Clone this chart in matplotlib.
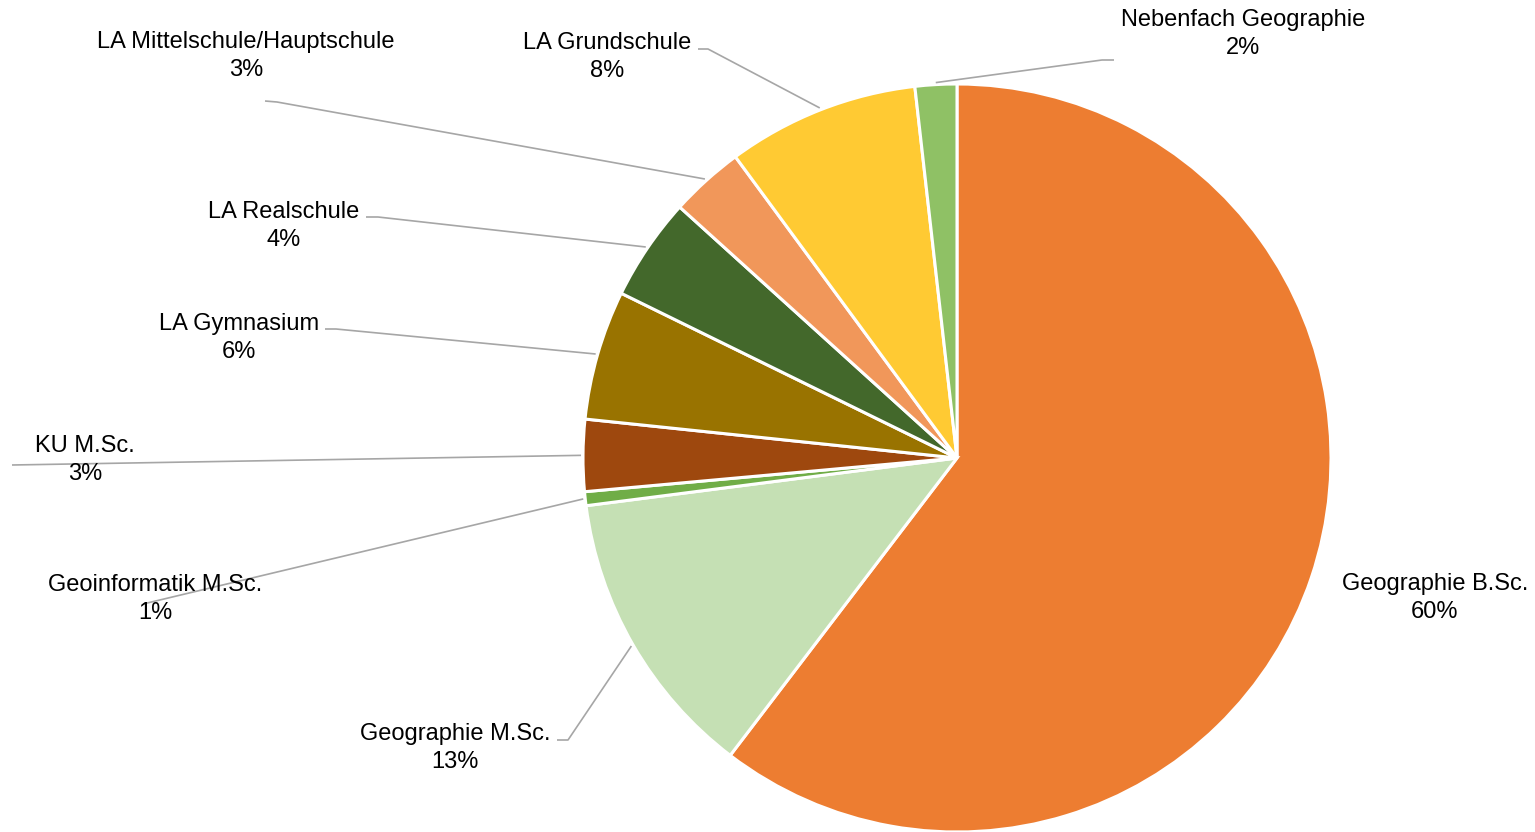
import numpy as np
import matplotlib
matplotlib.use("Agg")
import matplotlib.pyplot as plt

# ---- data ----
categories = ["Geographie B.Sc.", "Geographie M.Sc.", "Geoinformatik M.Sc.", "KU M.Sc.",
              "LA Gymnasium", "LA Realschule", "LA Mittelschule/Hauptschule",
              "LA Grundschule", "Nebenfach Geographie"]
shares = [60.4, 12.6, 0.6, 3.1, 5.6, 4.45, 3.2, 8.3, 1.8]
colors = ["#ED7D31", "#C5E0B4", "#70AD47", "#9E480E", "#997300",
          "#43682B", "#F1975A", "#FFCA33", "#8FC165"]

# ---- layout (pixel coordinates, y from top) ----
W, H = 1535, 832
cx, cy, R = 957, 458, 374
# label text centre positions
label_pos = [(1435, 598), (455, 748), (155, 599), (85, 460), (239, 338),
             (284, 226), (246, 56), (607, 57), (1243, 34)]
# leader line: list of extra points from slice outward (None = no leader)
leaders = [None,
           [(568, 740), (557, 740)],
           [(143, 604)],
           [(12, 465)],
           [(336, 329), (325, 329)],
           [(378, 217), (366, 217)],
           [(277, 102), (265, 101)],
           [(708, 49), (698, 49)],
           [(1102, 60), (1114, 60)]]

fig = plt.figure(figsize=(W / 100, H / 100), dpi=100)
ax = fig.add_axes([0, 0, 1, 1])
ax.set_xlim(0, W)
ax.set_ylim(0, H)
ax.set_aspect("equal")
ax.axis("off")

ax.pie(shares, colors=colors, startangle=90, counterclock=False,
       center=(cx, H - cy), radius=R,
       wedgeprops=dict(edgecolor="white", linewidth=2.2), frame=False)
ax.set_xlim(0, W)
ax.set_ylim(0, H)

total = sum(shares)
cum = np.cumsum([0] + shares)
for i, (cat, val) in enumerate(zip(categories, shares)):
    mid = (cum[i] + val / 2) / total * 2 * np.pi
    if leaders[i] is not None:
        sx = cx + (R + 2) * np.sin(mid)
        sy = cy - (R + 2) * np.cos(mid)
        pts = [(sx, sy)] + leaders[i]
        xs = [p[0] for p in pts]
        ys = [H - p[1] for p in pts]
        ax.plot(xs, ys, color="#A6A6A6", lw=1.2, solid_capstyle="butt", zorder=1)
    tx, ty = label_pos[i]
    ax.text(tx, H - ty, f"{cat}\n{round(val / total * 100):.0f}%",
            ha="center", va="center", fontsize=17, family="Liberation Sans",
            color="#000000", linespacing=1.38, zorder=3)

fig.savefig("out.png", dpi=100)
